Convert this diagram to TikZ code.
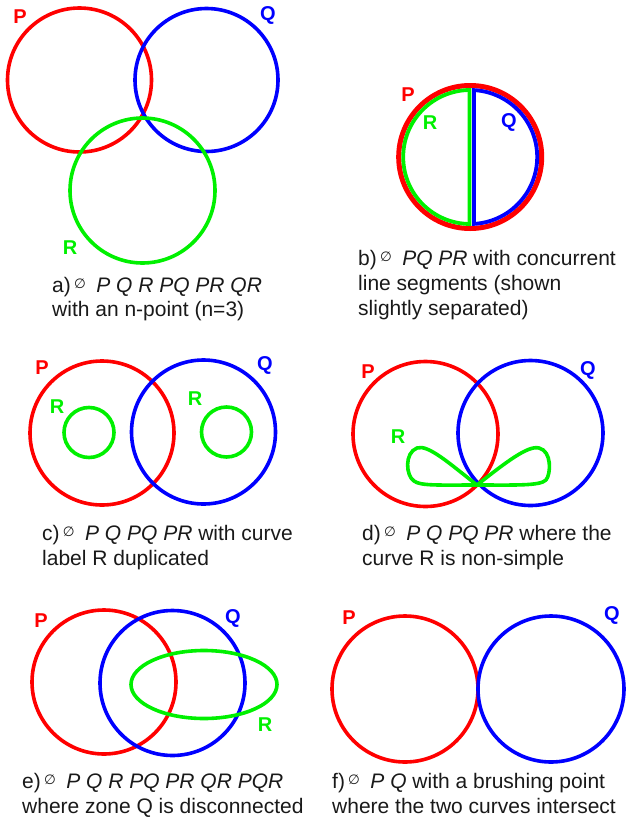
\documentclass[tikz,border=0pt]{standalone}
\usepackage{fontspec}
\setmainfont{Liberation Sans}
\newfontfamily\dejavu{DejaVu Sans}
\definecolor{cRed}{RGB}{255,0,0}
\definecolor{cBlue}{RGB}{0,0,255}
\definecolor{cGreen}{RGB}{0,240,0}
\newcommand{\nzone}{\hspace{0.15em}{\dejavu\fontsize{13.5}{13.5}\selectfont\raisebox{4pt}{∅}}\hspace{0.5em}}
\tikzset{
  curveP/.style={draw=cRed, line width=3.6pt},
  curveQ/.style={draw=cBlue, line width=3.6pt},
  curveR/.style={draw=cGreen, line width=3.6pt},
  lab/.style={font=\fontsize{20}{20}\selectfont\bfseries, inner sep=0pt, anchor=center},
  labP/.style={lab, text=cRed},
  labQ/.style={lab, text=cBlue},
  labR/.style={lab, text=cGreen},
  capline/.style={font=\fontsize{21}{24}\selectfont, anchor=base west, inner sep=0pt, text=black!90}
}
\begin{document}
\begin{tikzpicture}[x=1pt,y=-1pt]
\useasboundingbox (0,0) rectangle (634,828);
% ---------- a)
\draw[curveP] (79.5,80) circle[radius=72];
\draw[curveQ] (206.5,80) circle[radius=71.5];
\draw[curveR] (142.5,190.5) circle[radius=72.5];
\node[labP] (aP) at (20,17) {P};
\node[labQ] (aQ) at (268,15) {Q};
\node[labR] (aR) at (70,248) {R};
\node[capline] (capA1) at (52,292) {a)\nzone\textit{P Q R PQ PR QR}};
\node[capline] (capA2) at (52,316) {with an n-point (n=3)};
% ---------- b)
\draw[draw=cRed, line width=5pt] (470.2,157) circle[radius=71.5];
\draw[curveR, line width=3.8pt] (469.5,90) arc[start angle=-90.6, end angle=-269.4, radius=67] -- cycle;
\draw[curveQ, line width=3.8pt] (474,90.1) arc[start angle=-86.75, end angle=86.75, radius=67] -- cycle;
\node[labP] (bP) at (408,95) {P};
\node[labR] (bR) at (430,123) {R};
\node[labQ] (bQ) at (509,122) {Q};
\node[capline] (capB1) at (358,265) {b)\nzone\textit{PQ PR} with concurrent};
\node[capline] (capB2) at (358,290) {line segments (shown};
\node[capline] (capB3) at (358,315) {slightly separated)};
% ---------- c)
\draw[curveP] (102,433) circle[radius=72];
\draw[curveQ] (203.5,432) circle[radius=72];
\draw[curveR] (89,432.5) circle[radius=25];
\draw[curveR] (226.5,432) circle[radius=25];
\node[labP] (cP) at (42,368) {P};
\node[labQ] (cQ) at (265,365) {Q};
\node[labR] (cR1) at (57,407) {R};
\node[labR] (cR2) at (195,399) {R};
\node[capline] (capC1) at (42,540) {c)\nzone\textit{P Q PQ PR} with curve};
\node[capline] (capC2) at (42,565) {label R duplicated};
% ---------- d)
\draw[curveP] (425.5,434) circle[radius=72.5];
\draw[curveQ] (530.5,433) circle[radius=72.5];
\draw[curveR, line join=round] (477,485) .. controls (450,464) and (428,444) .. (417,448)
   .. controls (404,453) and (406,476) .. (414,481)
   .. controls (420,486) and (440,485) .. (477,485)
   .. controls (505,463) and (528,445) .. (539,448)
   .. controls (552,451) and (551,474) .. (546,480)
   .. controls (540,486) and (515,485) .. (477,485);
\node[labP] (dP) at (368,372) {P};
\node[labQ] (dQ) at (588,370) {Q};
\node[labR] (dR) at (398,437) {R};
\node[capline] (capD1) at (362,540) {d)\nzone\textit{P Q PQ PR} where the};
\node[capline] (capD2) at (362,565) {curve R is non-simple};
% ---------- e)
\draw[curveP] (104,682) circle[radius=72];
\draw[curveQ] (172.5,683) circle[radius=72.5];
\draw[curveR] (204,684.5) ellipse[x radius=73, y radius=34];
\node[labP] (eP) at (41,621) {P};
\node[labQ] (eQ) at (233,618) {Q};
\node[labR] (eR) at (265,725) {R};
\node[capline] (capE1) at (22,788) {e)\nzone\textit{P Q R PQ PR QR PQR}};
\node[capline] (capE2) at (22,813) {where zone Q is disconnected};
% ---------- f)
\draw[curveP] (405,689) circle[radius=73];
\draw[curveQ] (551,689) circle[radius=73];
\node[labP] (fP) at (349,618) {P};
\node[labQ] (fQ) at (612,615) {Q};
\node[capline] (capF1) at (332,788) {f)\nzone\textit{P Q} with a brushing point};
\node[capline] (capF2) at (332,813) {where the two curves intersect};
\end{tikzpicture}
\end{document}
